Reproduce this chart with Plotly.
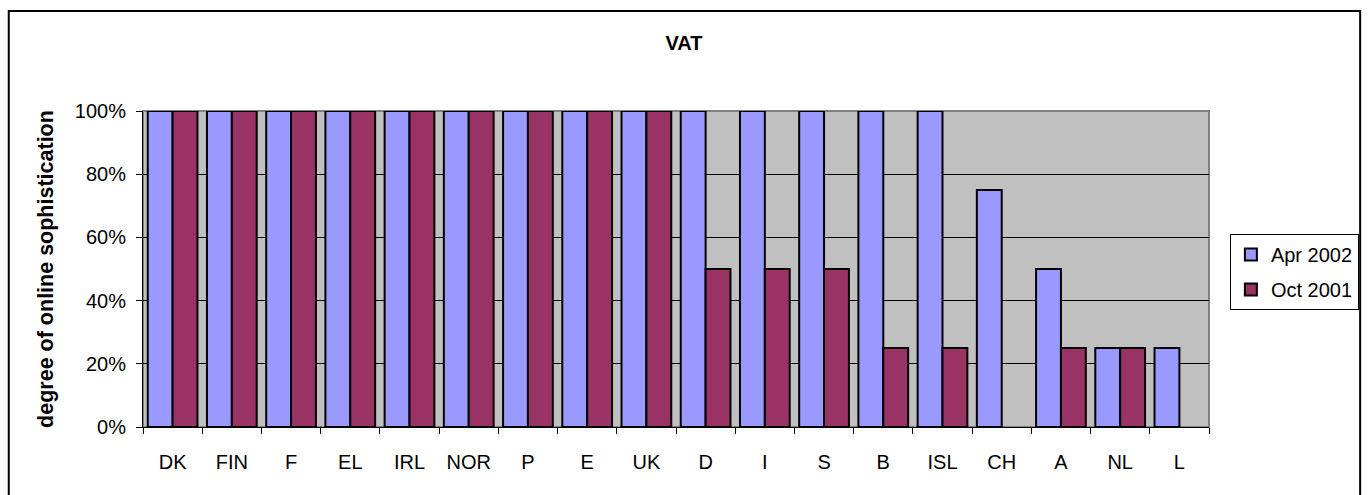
import plotly.graph_objects as go

countries = ["DK", "FIN", "F", "EL", "IRL", "NOR", "P", "E", "UK",
             "D", "I", "S", "B", "ISL", "CH", "A", "NL", "L"]
apr_2002 = [1, 1, 1, 1, 1, 1, 1, 1, 1, 1, 1, 1, 1, 1, 0.75, 0.5, 0.25, 0.25]
oct_2001 = [1, 1, 1, 1, 1, 1, 1, 1, 1, 0.5, 0.5, 0.5, 0.25, 0.25, None, 0.25, 0.25, None]

FONT = "Liberation Sans, Arial, sans-serif"

fig = go.Figure()
fig.add_trace(go.Bar(name="Apr 2002", x=countries, y=apr_2002, legendgroup="a",
                     marker=dict(color="#9999FF", line=dict(color="black", width=2))))
fig.add_trace(go.Bar(name="Oct 2001", x=countries, y=oct_2001, legendgroup="b",
                     marker=dict(color="#993366", line=dict(color="black", width=2))))

L, R, T, B = 143, 156, 111, 68
W, H = 1371, 495
pw, ph = W - L - R, H - T - B


def px_x(v):
    return (v - L) / pw


def px_y(v):
    return (H - B - v) / ph


fig.update_layout(
    width=W, height=H,
    barmode="group", bargap=0.16, bargroupgap=0,
    paper_bgcolor="white", plot_bgcolor="#C0C0C0",
    font=dict(family=FONT, size=20, color="black"),
    margin=dict(l=L, r=R, t=T, b=B),
    title=dict(text="<b>VAT</b>", x=px_x(687), xref="paper", xanchor="center",
               y=1 - 43 / H, yanchor="middle", font=dict(size=20)),
    xaxis=dict(showgrid=False, tickson="boundaries", ticks="outside", ticklen=6,
               tickcolor="black", showline=True, linecolor="black", linewidth=1,
               tickfont=dict(size=20), ticklabelstandoff=17),
    yaxis=dict(range=[0, 1], tickformat=".0%", dtick=0.2, showgrid=True,
               gridcolor="black", gridwidth=1, ticks="outside", ticklen=6,
               tickcolor="black", showline=True, linecolor="black",
               zeroline=False, tickfont=dict(size=20), ticklabelstandoff=6,
               title=dict(text="<b>degree of online sophistication</b>",
                          font=dict(size=21.5), standoff=15)),
    legend=dict(x=px_x(1236), y=px_y(234), xanchor="left", yanchor="top",
                bordercolor="black", borderwidth=1, bgcolor="white",
                font=dict(size=20), tracegroupgap=6, itemwidth=30,
                traceorder="grouped"),
    shapes=[
        dict(type="rect", xref="paper", yref="paper",
             x0=px_x(8), x1=px_x(1367), y0=px_y(505), y1=px_y(11),
             line=dict(color="black", width=2), layer="below"),
        dict(type="rect", xref="paper", yref="paper", x0=0, x1=1, y0=0, y1=1,
             line=dict(color="#808080", width=2), layer="below"),
    ],
)

fig.write_html("out.html", config={"displayModeBar": False},
               post_script="document.body.style.margin='0px';")
